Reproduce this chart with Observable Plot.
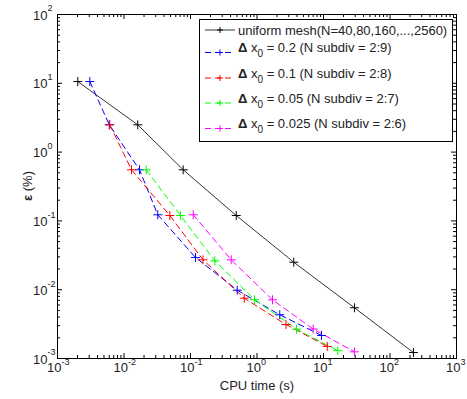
<!DOCTYPE html>
<html><head><meta charset="utf-8">
<script src="https://cdn.jsdelivr.net/npm/d3@7"></script>
<script src="https://cdn.jsdelivr.net/npm/@observablehq/plot@0.6"></script>
<style>body{margin:0;background:#fff} svg{display:block} #chart{width:467px;height:399px}</style>
</head><body><div id="chart"></div>
<script>
// ---- data (CPU time in s, error in %) ----
const uniformTime = [0.00202, 0.0161, 0.0776, 0.487, 3.57, 29.2, 225];
const uniformErr  = [10.6, 2.49, 0.553, 0.1198, 0.0251, 0.00546, 0.00122];
const dx02Time  = [0.00306, 0.0060, 0.0171, 0.0322, 0.119, 0.504, 2.20, 9.33];
const dx02Err   = [10.6, 2.5, 0.553, 0.1227, 0.0294, 0.00984, 0.00432, 0.00216];
const dx01Time  = [0.00611, 0.01297, 0.0489, 0.154, 0.643, 2.73, 11.4];
const dx01Err   = [2.49, 0.553, 0.1198, 0.0272, 0.00752, 0.00312, 0.0015];
const dx005Time = [0.0216, 0.0708, 0.232, 0.916, 3.93, 16.4];
const dx005Err  = [0.553, 0.1198, 0.0263, 0.00716, 0.00267, 0.0013];
const dx0025Time = [0.11, 0.409, 1.71, 7.0, 29.2];
const dx0025Err  = [0.1227, 0.0272, 0.00713, 0.00268, 0.00125];

const seriesKeys   = ["uniform", "dx0.2", "dx0.1", "dx0.05", "dx0.025"];
const seriesColors = ["#000000", "#0000ff", "#ff0000", "#00ff00", "#ff00ff"];
const seriesTimes  = [uniformTime, dx02Time, dx01Time, dx005Time, dx0025Time];
const seriesErrs   = [uniformErr, dx02Err, dx01Err, dx005Err, dx0025Err];
const uniformLabel = "uniform mesh(N=40,80,160,...,2560)";
const deltaValues  = ["0.2", "0.1", "0.05", "0.025"];
const subdivRanges = ["2:9", "2:8", "2:7", "2:6"];

const xDecades = [-3, -2, -1, 0, 1, 2, 3];
const yDecades = [-3, -2, -1, 0, 1, 2];
const xLabel = "CPU time (s)";

// ---- build rows ----
const rows = [];
seriesKeys.forEach((k, i) => seriesTimes[i].forEach((t, j) =>
  rows.push({series: k, color: seriesColors[i], t, e: seriesErrs[i][j]})));
const solidRows = rows.filter(r => r.series === "uniform");
const dashedRows = rows.filter(r => r.series !== "uniform");

const minorOf = decs => {
  const out = [];
  for (let i = 0; i < decs.length - 1; i++) for (let k = 2; k <= 9; k++) out.push(k * 10 ** decs[i]);
  return out;
};
const xMajor = xDecades.map(d => 10 ** d), yMajor = yDecades.map(d => 10 ** d);
const xMinor = minorOf(xDecades), yMinor = minorOf(yDecades);

const W = 467, H = 399, mL = 57, mR = 11, mT = 14, mB = 41;
const pw = W - mL - mR, ph = H - mT - mB;
const font = "Liberation Sans, Arial, Helvetica, sans-serif";
const txt = "#222";

const chart = Plot.plot({
  width: W, height: H,
  marginLeft: mL, marginRight: mR, marginTop: mT, marginBottom: mB,
  style: {fontFamily: font, background: "#fff"},
  x: {type: "log", domain: [1e-3, 1e3], axis: null},
  y: {type: "log", domain: [1e-3, 1e2], axis: null},
  color: {type: "identity"},
  marks: [
    // inward ticks
    Plot.tickX(xMajor, {x: d => d, insetTop: ph - 5, stroke: "#000"}),
    Plot.tickX(xMajor, {x: d => d, insetBottom: ph - 5, stroke: "#000"}),
    Plot.tickX(xMinor, {x: d => d, insetTop: ph - 3, stroke: "#000"}),
    Plot.tickX(xMinor, {x: d => d, insetBottom: ph - 3, stroke: "#000"}),
    Plot.tickY(yMajor, {y: d => d, insetRight: pw - 5, stroke: "#000"}),
    Plot.tickY(yMajor, {y: d => d, insetLeft: pw - 5, stroke: "#000"}),
    Plot.tickY(yMinor, {y: d => d, insetRight: pw - 3, stroke: "#000"}),
    Plot.tickY(yMinor, {y: d => d, insetLeft: pw - 3, stroke: "#000"}),
    // data
    Plot.line(solidRows, {x: "t", y: "e", stroke: "color", strokeWidth: 0.8}),
    Plot.dot(solidRows, {x: "t", y: "e", stroke: "color", symbol: "plus", r: 3, strokeWidth: 1}),
    Plot.line(dashedRows, {x: "t", y: "e", z: "series", stroke: "color", strokeWidth: 1, strokeDasharray: "6,4"}),
    Plot.dot(dashedRows, {x: "t", y: "e", stroke: "color", symbol: "plus", r: 3, strokeWidth: 1}),
    Plot.frame({stroke: "#000", strokeWidth: 1}),
    // tick labels x
    Plot.text(xDecades, {x: d => 10 ** d, frameAnchor: "bottom", text: () => "10", textAnchor: "end", dx: 4, dy: 13, fontSize: 13, fill: txt}),
    Plot.text(xDecades, {x: d => 10 ** d, frameAnchor: "bottom", text: d => String(d), textAnchor: "start", dx: 4, dy: 6, fontSize: 9, fill: txt}),
    // tick labels y
    Plot.text(yDecades, {y: d => 10 ** d, frameAnchor: "left", text: () => "10", textAnchor: "end", dx: -10, dy: 1, fontSize: 13, fill: txt}),
    Plot.text(yDecades, {y: d => 10 ** d, frameAnchor: "left", text: d => String(d), textAnchor: "start", dx: -10, dy: -6, fontSize: 9, fill: txt}),
    // x axis title
    Plot.text([xLabel], {frameAnchor: "bottom", text: d => d, dy: 31, fontSize: 13, fill: txt})
  ]
});
document.getElementById("chart").appendChild(chart);

// ---- y axis title and legend ----
const svg = d3.select(chart);
const yt = svg.append("text")
  .attr("transform", `translate(32,${mT + ph / 2}) rotate(-90)`)
  .attr("text-anchor", "middle").attr("font-family", font).attr("font-size", 13).attr("fill", txt);
yt.append("tspan").attr("font-weight", "bold").text("ε");
yt.append("tspan").text(" (%)");

const lg = svg.append("g").attr("font-family", font).attr("font-size", 13).attr("text-anchor", "start");
lg.append("rect").attr("x", 199.5).attr("y", 19.5).attr("width", 253).attr("height", 122)
  .attr("fill", "#fff").attr("stroke", "#000");
const rowY = [30, 52.5, 78, 103, 128.5];
const baseY = [34.5, 52, 77.5, 102.5, 128];
seriesKeys.forEach((k, i) => {
  const y = rowY[i];
  lg.append("line").attr("x1", 205).attr("x2", 235).attr("y1", y).attr("y2", y)
    .attr("stroke", seriesColors[i]).attr("stroke-width", i === 0 ? 0.8 : 1)
    .attr("stroke-dasharray", i === 0 ? null : "6,4");
  lg.append("line").attr("x1", 217).attr("x2", 223).attr("y1", y).attr("y2", y).attr("stroke", seriesColors[i]);
  lg.append("line").attr("x1", 220).attr("x2", 220).attr("y1", y - 3).attr("y2", y + 3).attr("stroke", seriesColors[i]);
  const t = lg.append("text").attr("x", 238).attr("y", baseY[i]).attr("fill", txt).attr("text-anchor", "start");
  if (i === 0) { t.text(uniformLabel); return; }
  t.append("tspan").attr("font-weight", "bold").text("Δ");
  t.append("tspan").text(" x");
  t.append("tspan").attr("dy", 5).attr("font-size", 10).text("0");
  t.append("tspan").attr("dy", -5).text(` = ${deltaValues[i - 1]} (N subdiv = ${subdivRanges[i - 1]})`);
});
</script>
</body></html>
